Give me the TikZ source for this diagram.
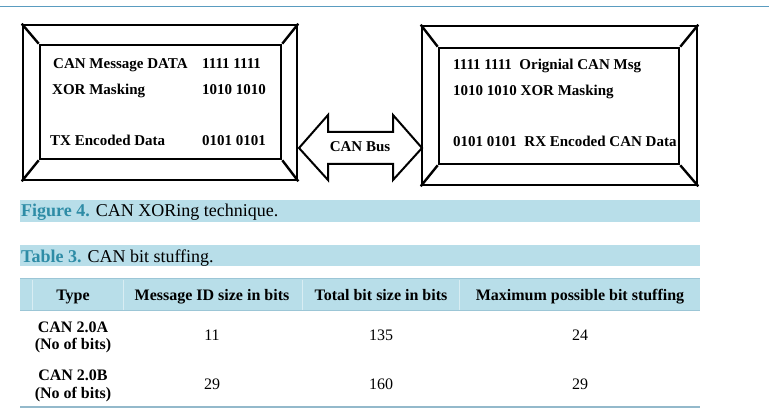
\documentclass[tikz,border=0pt]{standalone}
\usepackage{fontspec}
\setmainfont{Liberation Serif}
\definecolor{capbar}{HTML}{B8DEE9}
\definecolor{capteal}{HTML}{2E8CA6}
\definecolor{rulecol}{HTML}{5A9CC0}
\definecolor{tabline}{HTML}{93B9CB}
\definecolor{hdrline}{HTML}{9CC6D6}
\begin{document}
\begin{tikzpicture}[x=1pt,y=-1pt,
  frame/.style={draw, line width=2.6pt, inner sep=0pt},
  diag/.style={line width=2.4pt},
  busline/.style={line width=2pt, line join=miter},
  boxtxt/.style={font=\fontsize{15}{18}\selectfont\bfseries, inner sep=0pt, anchor=base west},
  captxt/.style={font=\fontsize{18}{21}\selectfont, inner sep=0pt, anchor=base west},
  hdtxt/.style={font=\fontsize{16}{19}\selectfont\bfseries, inner sep=0pt, anchor=base},
  celltxt/.style={font=\fontsize{16}{19}\selectfont, inner sep=0pt, anchor=base},
  celltxtb/.style={font=\fontsize{16}{19}\selectfont\bfseries, inner sep=0pt, anchor=base}]
\useasboundingbox (0,0) rectangle (769,414);
\fill[white] (0,0) rectangle (769,414);
% top rule
\draw[rulecol, line width=1pt] (0,7) -- (769,7);

% left box
\node[frame, minimum width=274pt, minimum height=155pt] (txo) at (160,102.5) {};
\node[frame, minimum width=241pt, minimum height=114pt] (txi) at (160.5,102) {};
\foreach \c in {north west, north east, south west, south east}
  \draw[diag] (txo.\c) -- (txi.\c);
\node[boxtxt] (t1) at (53,69) {CAN Message DATA};
\node[boxtxt] (t1v) at (202,69) {1111 1111};
\node[boxtxt] (t2) at (52,95) {XOR Masking};
\node[boxtxt] (t2v) at (202,95) {1010 1010};
\node[boxtxt] (t3) at (50,146) {TX Encoded Data};
\node[boxtxt] (t3v) at (202,146) {0101 0101};

% right box
\node[frame, minimum width=275pt, minimum height=159pt] (rxo) at (559.5,105.5) {};
\node[frame, minimum width=240pt, minimum height=116pt] (rxi) at (559,106) {};
\foreach \c in {north west, north east, south west, south east}
  \draw[diag] (rxo.\c) -- (rxi.\c);
\node[boxtxt] (r1) at (453,70) {1111 1111 \ Orignial CAN Msg};
\node[boxtxt] (r2) at (453,96) {1010 1010 XOR Masking};
\node[boxtxt] (r3) at (453,147) {0101 0101 \ RX Encoded CAN Data};

% CAN bus double arrow
\coordinate (ltip) at (299,148);
\coordinate (rtip) at (422,148);
\draw[busline] (ltip) -- (328,115) -- (328,132) -- (393,132) -- (393,115) -- (rtip)
  -- (393,180) -- (393,164) -- (328,164) -- (328,180) -- cycle;
\node[boxtxt, anchor=base] (bus) at (360,152) {CAN Bus};

% captions
\fill[capbar] (20,200) rectangle (700,222);
\node[captxt] (fig) at (21,217) {\textcolor{capteal}{\bfseries Figure 4.} CAN XORing technique.};
\fill[capbar] (20,245) rectangle (700,266);
\node[captxt] (tab) at (21,263) {\textcolor{capteal}{\bfseries Table 3.} CAN bit stuffing.};

% table header
\fill[capbar] (20,278) rectangle (700,311);
\draw[hdrline, line width=1.5pt] (20,278.5) -- (700,278.5);
\draw[hdrline, line width=1pt] (20,311) -- (700,311);
\foreach \x in {32,123,302,459}
  \draw[capbar!55!white, line width=0.8pt] (\x,280) -- (\x,310);
\node[hdtxt] (h1) at (73,301) {Type};
\node[hdtxt] (h2) at (212,301) {Message ID size in bits};
\node[hdtxt] (h3) at (381,301) {Total bit size in bits};
\node[hdtxt] (h4) at (580,301) {Maximum possible bit stuffing};

% rows
\node[celltxtb] (a1) at (73,332) {CAN 2.0A};
\node[celltxtb] (a1b) at (73,349) {(No of bits)};
\node[celltxt] (a2) at (212,341) {11};
\node[celltxt] (a3) at (381,341) {135};
\node[celltxt] (a4) at (580,341) {24};
\node[celltxtb] (b1) at (73,381) {CAN 2.0B};
\node[celltxtb] (b1b) at (73,398) {(No of bits)};
\node[celltxt] (b2) at (212,389) {29};
\node[celltxt] (b3) at (381,389) {160};
\node[celltxt] (b4) at (580,389) {29};

% bottom rule
\draw[tabline, line width=2pt] (20,407) -- (700,407);
\end{tikzpicture}
\end{document}
